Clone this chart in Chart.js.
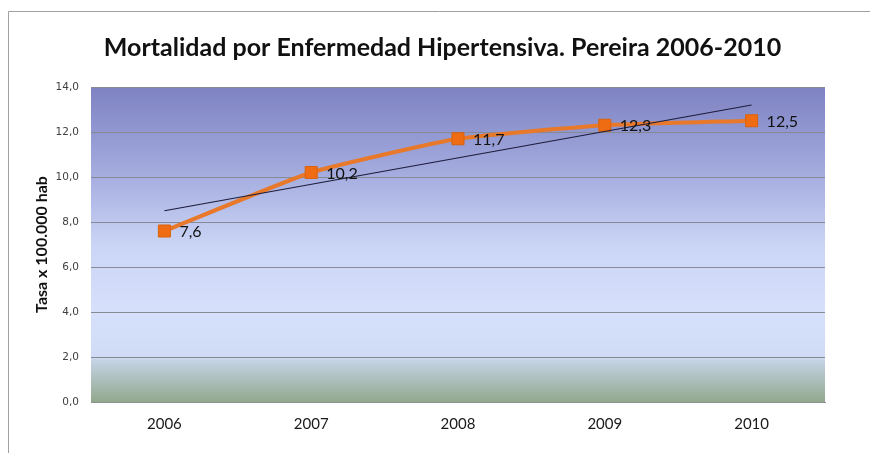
<!DOCTYPE html>
<html>
<head>
<meta charset="utf-8">
<script src="https://cdn.jsdelivr.net/npm/chart.js@4"></script>
<style>
  html, body { margin: 0; padding: 0; background: #ffffff; }
  #wrap { width: 870px; height: 453px; }
</style>
</head>
<body>
<div id="wrap"><canvas id="c" width="870" height="453"></canvas></div>
<script>
const years = ['2006', '2007', '2008', '2009', '2010'];
const rates = [7.6, 10.2, 11.7, 12.3, 12.5];
// linear trend line (endpoints)
const trend = [8.5, null, null, null, 13.2];
const yTicks = [0, 2, 4, 6, 8, 10, 12, 14];
const titleText = 'Mortalidad por Enfermedad Hipertensiva. Pereira 2006-2010';
const yTitle = 'Tasa x 100.000 hab';

const FONT = 'Lato, "Open Sans", sans-serif';
const fmt = v => v.toFixed(1).replace('.', ',');

const framePlugin = {
  id: 'frame',
  beforeDraw(chart) {
    const ctx = chart.ctx;
    const a = chart.chartArea;
    ctx.save();
    // outer frame
    ctx.strokeStyle = '#a0a0a0';
    ctx.lineWidth = 1;
    ctx.beginPath();
    ctx.moveTo(8.5, 453);
    ctx.lineTo(8.5, 11.5);
    ctx.lineTo(870, 11.5);
    ctx.stroke();
    // title
    ctx.font = 'bold 25px ' + FONT;
    ctx.fillStyle = '#111111';
    ctx.textAlign = 'center';
    ctx.textBaseline = 'middle';
    ctx.fillText(titleText, 442.5, 48);
    // plot background gradient
    const g = ctx.createLinearGradient(0, a.top, 0, a.bottom);
    g.addColorStop(0, 'rgb(126,130,194)');
    g.addColorStop(0.25, 'rgb(160,168,220)');
    g.addColorStop(0.5, 'rgb(202,212,245)');
    g.addColorStop(0.7, 'rgb(214,224,251)');
    g.addColorStop(0.855, 'rgb(208,220,246)');
    g.addColorStop(0.87, 'rgb(196,210,228)');
    g.addColorStop(1, 'rgb(146,168,140)');
    ctx.fillStyle = g;
    ctx.fillRect(a.left, a.top, a.right - a.left, a.bottom - a.top);
    ctx.restore();
  }
};

const labelPlugin = {
  id: 'valueLabels',
  afterDatasetsDraw(chart) {
    const ctx = chart.ctx;
    const meta = chart.getDatasetMeta(1);
    const data = chart.data.datasets[1].data;
    ctx.save();
    ctx.font = '16px ' + FONT;
    ctx.fillStyle = '#111111';
    ctx.textAlign = 'left';
    ctx.textBaseline = 'middle';
    meta.data.forEach((pt, i) => {
      ctx.fillText(fmt(data[i]), pt.x + 15, pt.y + 1);
    });
    ctx.restore();
  }
};

new Chart(document.getElementById('c'), {
  type: 'line',
  data: {
    labels: years,
    datasets: [
      {
        label: 'Tendencia',
        data: trend,
        spanGaps: true,
        borderColor: '#1c1c3a',
        borderWidth: 1.2,
        pointRadius: 0,
        tension: 0,
        order: 0
      },
      {
        label: 'Tasa',
        data: rates,
        borderColor: '#E8782A',
        borderWidth: 4,
        pointStyle: 'rect',
        pointRadius: 8.5,
        pointBackgroundColor: '#F06C12',
        pointBorderColor: '#D9620C',
        pointBorderWidth: 1,
        tension: 0.15,
        order: 1
      }
    ]
  },
  options: {
    responsive: false,
    animation: false,
    devicePixelRatio: 1,
    layout: { padding: { left: 28, right: 45, top: 87, bottom: 11 } },
    plugins: {
      legend: { display: false },
      tooltip: { enabled: false },
      title: { display: false }
    },
    scales: {
      x: {
        offset: true,
        grid: { display: false, drawTicks: false },
        border: { display: true, color: '#909090', width: 1 },
        ticks: {
          color: '#1a1a1a',
          font: { family: FONT, size: 15 },
          padding: 13
        },
        afterFit(s) { s.height = 40; }
      },
      y: {
        min: 0,
        max: 14,
        afterBuildTicks(s) { s.ticks = yTicks.map(v => ({ value: v })); },
        grid: { color: '#858a95', lineWidth: 1, drawTicks: false },
        border: { display: false },
        ticks: {
          color: '#404040',
          font: { family: '"DejaVu Sans", sans-serif', size: 10.5 },
          padding: 12,
          callback: v => fmt(v)
        },
        title: {
          display: true,
          text: yTitle,
          color: '#111111',
          font: { family: FONT, size: 16, weight: 'bold', lineHeight: 1.2 },
          padding: { top: 4, bottom: 0 }
        },
        afterFit(s) { s.width = 63; }
      }
    }
  },
  plugins: [framePlugin, labelPlugin]
});
</script>
</body>
</html>
